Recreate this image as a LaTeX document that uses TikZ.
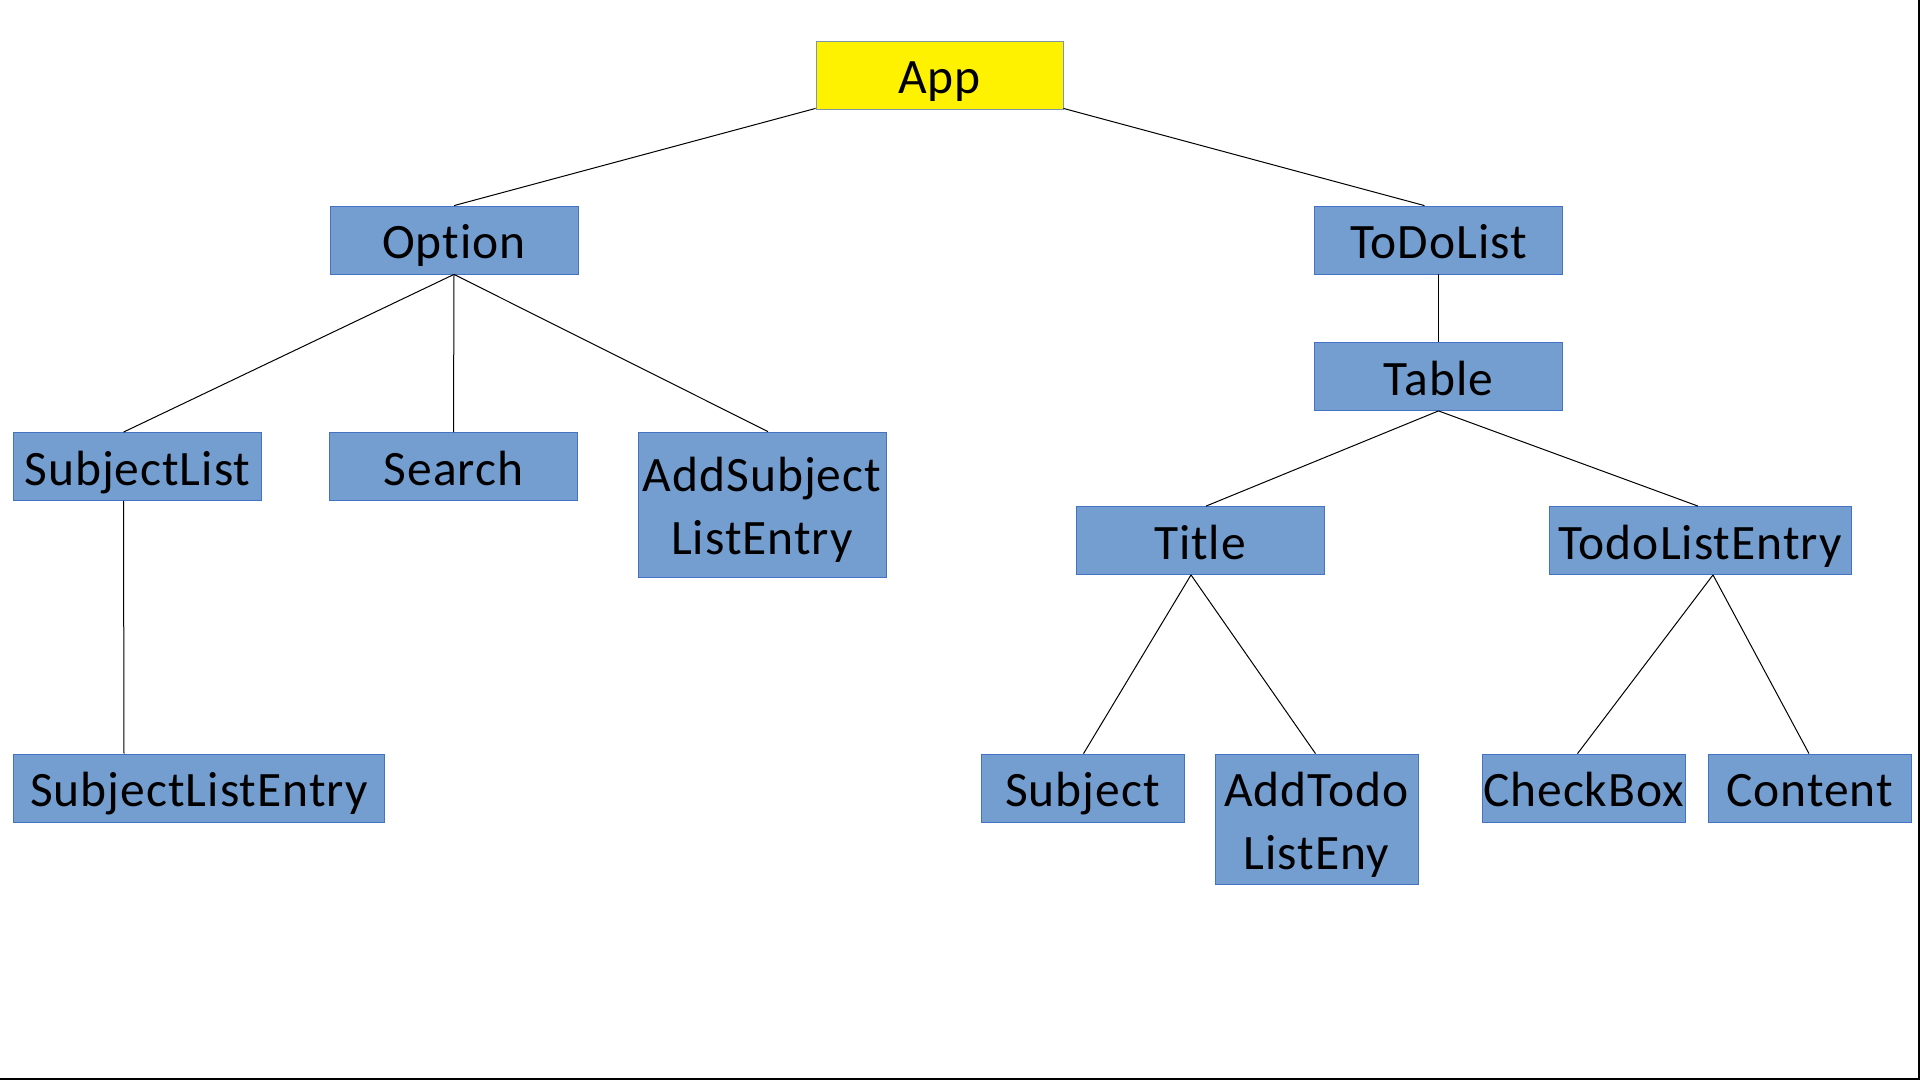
\documentclass[tikz,border=0pt]{standalone}
\usepackage{fontspec}
\setmainfont{Carlito}[LetterSpace=2, Ligatures=NoCommon]
\usetikzlibrary{calc}
\definecolor{boxblue}{RGB}{115,158,207}
\definecolor{boxedge}{RGB}{68,114,196}
\definecolor{appyellow}{RGB}{255,242,0}
\definecolor{appedge}{RGB}{125,150,170}
\newcommand{\twolines}[2]{\raisebox{0pt}[\dimexpr\height+6pt\relax][\dimexpr\depth-6pt\relax]{\begin{tabular}{@{}c@{}}#1\\#2\end{tabular}}}
\tikzset{
  box/.style={draw=boxedge, line width=0.8pt, fill=boxblue, inner sep=0pt, align=center,
    font=\fontsize{49.5}{63}\selectfont, text=black},
  oneline/.style={box, text height=47pt, text depth=10pt, minimum height=68pt},
  link/.style={draw=black, line width=1pt},
}
\begin{document}
\begin{tikzpicture}[x=1pt,y=-1pt]
\useasboundingbox (0,0) rectangle (1920,1080);
\fill[white] (0,0) rectangle (1920,1080);
\draw[line width=2pt] (0,1079) -- (1919,1079) -- (1919,0);
% nodes
\node[oneline, fill=appyellow, draw=appedge, minimum width=247pt] (App) at (939.5,75) {App};
\node[oneline, minimum width=248pt] (Option) at (454,240) {Option};
\node[oneline, minimum width=248pt] (ToDoList) at (1438.5,240) {ToDoList};
\node[oneline, minimum width=248pt] (Table) at (1438.5,376.5) {Table};
\node[oneline, minimum width=248pt] (SubjectList) at (137.5,466.5) {SubjectList};
\node[oneline, minimum width=248pt] (Search) at (453.5,466.5) {Search};
\node[box, minimum width=248pt, minimum height=145pt] (AddSubject) at (762,504.5) {\twolines{AddSubject}{ListEntry}};
\node[oneline, minimum width=248pt] (Title) at (1200,540.5) {Title};
\node[oneline, minimum width=302pt] (TodoListEntry) at (1700,540.5) {TodoListEntry};
\node[oneline, minimum width=371pt] (SubjectListEntry) at (199,788) {SubjectListEntry};
\node[oneline, minimum width=203pt] (Subject) at (1082.5,788) {Subject};
\node[box, minimum width=203pt, minimum height=130pt] (AddTodo) at (1316.5,819) {\twolines{AddTodo}{ListEny}};
\node[oneline, minimum width=203pt] (CheckBox) at (1583.5,788) {CheckBox};
\node[oneline, minimum width=203pt] (Content) at (1809.5,788) {Content};
% connectors
\draw[link] ([yshift=1pt]App.south west) -- (Option.north);
\draw[link] ([yshift=1pt]App.south east) -- ([xshift=-14pt]ToDoList.north);
\draw[link] (Option.south) -- ([xshift=-14pt]SubjectList.north);
\draw[link] (Option.south) -- (Search.north);
\draw[link] (Option.south) -- ([xshift=6pt]AddSubject.north);
\draw[link] ([xshift=-14pt]SubjectList.south) -- ([xshift=-75pt]SubjectListEntry.north);
\draw[link] (ToDoList.south) -- (Table.north);
\draw[link] (Table.south) -- ([xshift=6pt]Title.north);
\draw[link] (Table.south) -- ([xshift=-2pt]TodoListEntry.north);
\draw[link] ([xshift=-9pt]Title.south) -- ([xshift=1pt]Subject.north);
\draw[link] ([xshift=-9pt]Title.south) -- ([xshift=-1pt]AddTodo.north);
\draw[link] ([xshift=13pt]TodoListEntry.south) -- ([xshift=-6pt]CheckBox.north);
\draw[link] ([xshift=13pt]TodoListEntry.south) -- ([xshift=-0.5pt]Content.north);
\end{tikzpicture}
\end{document}
